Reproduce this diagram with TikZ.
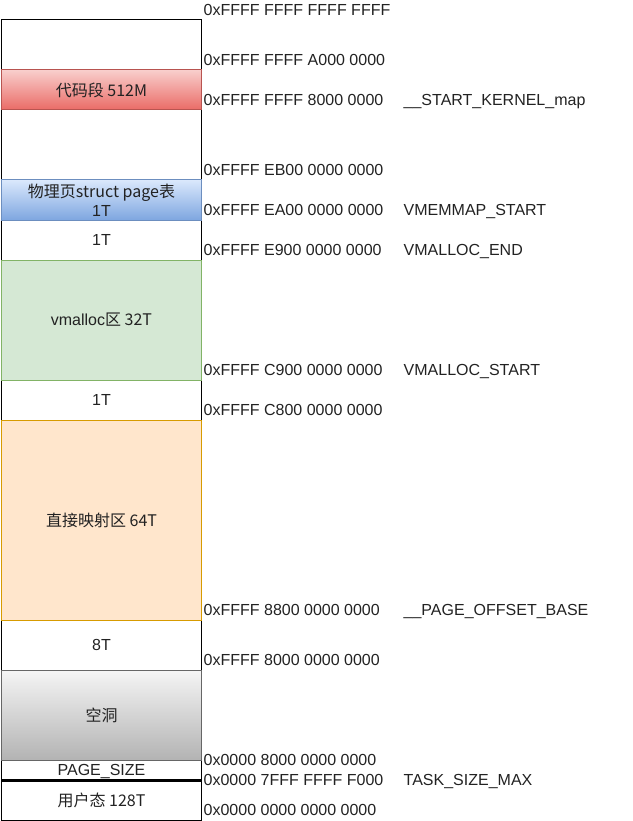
\documentclass[tikz,border=0pt]{standalone}
\usepackage{fontspec}
\setmainfont{Liberation Sans}
\newfontfamily\cjk{Noto Sans CJK SC}
\usetikzlibrary{positioning}

\definecolor{redtop}{HTML}{F8CECC}
\definecolor{redbot}{HTML}{EA6B66}
\definecolor{redline}{HTML}{B85450}
\definecolor{bluetop}{HTML}{DAE8FC}
\definecolor{bluebot}{HTML}{7EA6E0}
\definecolor{blueline}{HTML}{6C8EBF}
\definecolor{greenfill}{HTML}{D5E8D4}
\definecolor{greenline}{HTML}{82B366}
\definecolor{orangefill}{HTML}{FFE6CC}
\definecolor{orangeline}{HTML}{D79B00}
\definecolor{graytop}{HTML}{F5F5F5}
\definecolor{graybot}{HTML}{B3B3B3}
\definecolor{grayline}{HTML}{666666}
\definecolor{txt}{HTML}{222222}

\begin{document}
\begin{tikzpicture}[x=1pt,y=-1pt,
    every node/.style={font=\fontsize{16}{19}\selectfont, text=txt},
    seg/.style={draw, line width=1pt, minimum width=200pt, anchor=north west,
        inner sep=0pt, outer sep=0pt, align=center},
    addr/.style={anchor=west, inner sep=0pt, text height=11.4pt, text depth=0pt}]
    \useasboundingbox (0,0) rectangle (632,821);

    % plain slots
    \foreach \n/\y/\h/\t in {top/20/50/, k1/110/70/, v1/220/40/1T, v2/380/40/1T,
        h8/620/50/8T, usr/780/40/{\cjk{用户态} 128T}}
        \node[seg, minimum height=\h] (\n) at (1.5,\y) {\t};
    \node[seg, minimum height=20, text depth=0pt] (pg) at (1.5,760) {PAGE\_SIZE};

    % coloured areas
    \node[seg, minimum height=40, draw=redline, top color=redtop, bottom color=redbot]
        (code) at (1.5,70) {\cjk{代码段} 512M};
    \node[seg, minimum height=40, draw=blueline, top color=bluetop, bottom color=bluebot]
        (pgt) at (1.5,180) {\cjk{物理页}struct page\cjk{表}\\1T};
    \node[seg, minimum height=120, draw=greenline, fill=greenfill]
        (vm) at (1.5,260) {vmalloc\cjk{区} 32T};
    \node[seg, minimum height=200, draw=orangeline, fill=orangefill]
        (dm) at (1.5,420) {\cjk{直接映射区} 64T};
    \node[seg, minimum height=90, draw=grayline, top color=graytop, bottom color=graybot]
        (hole) at (1.5,670) {\cjk{空洞}};

    \draw[line width=3pt] (pg.south west) -- (pg.south east);

    % addresses
    \foreach \y/\t [count=\i] in {10/0xFFFF FFFF FFFF FFFF, 60/0xFFFF FFFF A000 0000,
        100/0xFFFF FFFF 8000 0000, 170/0xFFFF EB00 0000 0000, 210/0xFFFF EA00 0000 0000,
        250/0xFFFF E900 0000 0000, 370/0xFFFF C900 0000 0000, 410/0xFFFF C800 0000 0000,
        610/0xFFFF 8800 0000 0000, 660/0xFFFF 8000 0000 0000, 760/0x0000 8000 0000 0000,
        780/0x0000 7FFF FFFF F000, 810/0x0000 0000 0000 0000}
        \node[addr] (a\i) at (203.5,\y) {\t};

    % symbols
    \foreach \y/\t [count=\i] in {100/\_\_START\_KERNEL\_map, 210/VMEMMAP\_START,
        250/VMALLOC\_END, 370/VMALLOC\_START, 610/\_\_PAGE\_OFFSET\_BASE,
        780/TASK\_SIZE\_MAX}
        \node[addr] (s\i) at (403.5,\y) {\t};
\end{tikzpicture}
\end{document}
